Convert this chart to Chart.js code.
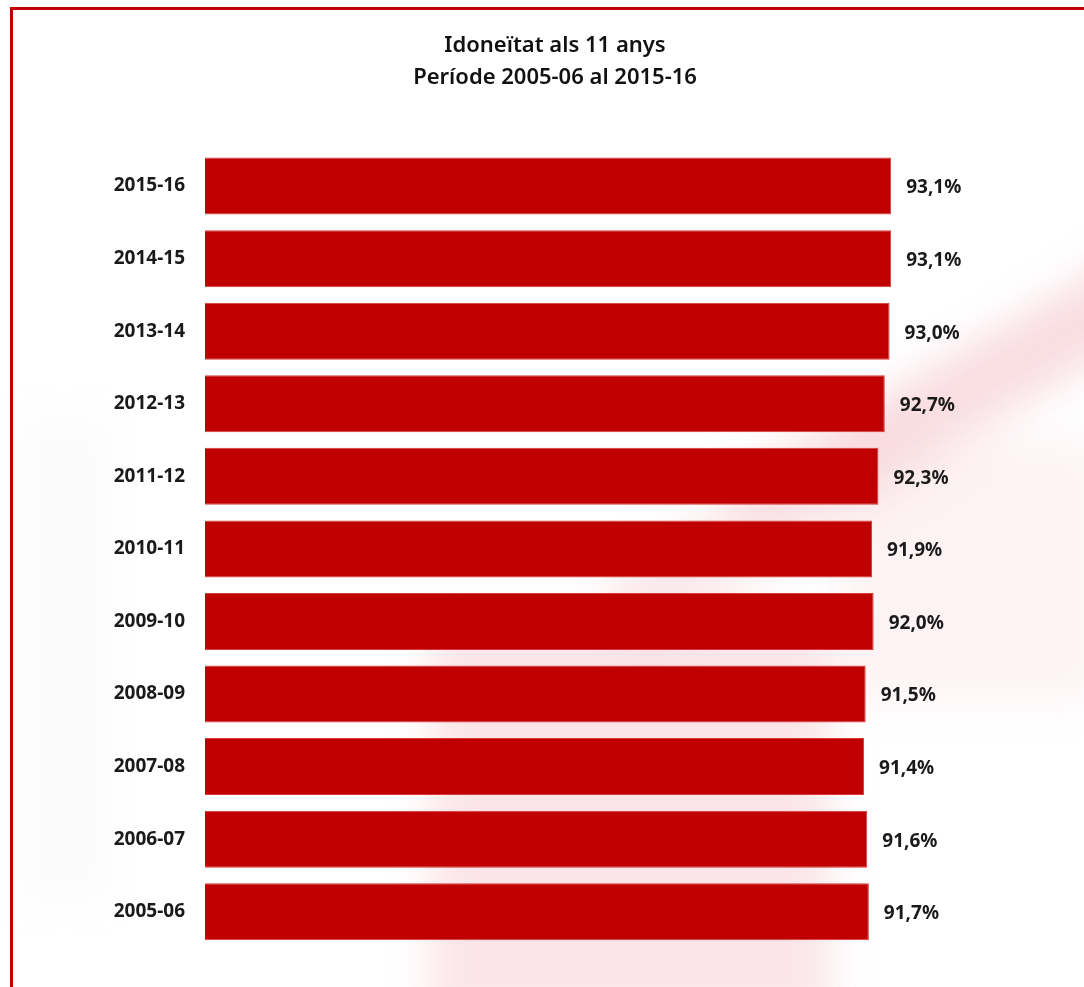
<!DOCTYPE html>
<html>
<head>
<meta charset="utf-8">
<script src="https://cdn.jsdelivr.net/npm/chart.js@4.4.1/dist/chart.umd.min.js"></script>
<style>
  html, body { margin: 0; padding: 0; background: #fff; overflow: hidden; }
  #wrap { position: relative; width: 1084px; height: 987px; overflow: hidden; background: #fff; }
  #bg { position: absolute; left: 0; top: 0; width: 1084px; height: 987px; overflow: hidden; }
  .blob { position: absolute; filter: blur(20px); }
  #frame { position: absolute; left: 10px; top: 7px; width: 1100px; height: 1000px;
           border-left: 3px solid #C00000; border-top: 3px solid #C00000; box-sizing: border-box; }
  canvas { position: absolute; left: 0; top: 0; }
</style>
</head>
<body>
<div id="wrap">
  <div id="bg">
    <div class="blob" style="left:430px; top:620px; width:400px; height:400px; background:rgba(245,190,198,0.40);"></div>
    <div class="blob" style="left:600px; top:580px; width:700px; height:80px; background:rgba(240,170,180,0.25); transform:rotate(-32deg); transform-origin:0 0;"></div>
    <div class="blob" style="left:720px; top:480px; width:600px; height:60px; background:rgba(240,170,180,0.22); transform:rotate(-28deg); transform-origin:0 0;"></div>
    <div class="blob" style="left:840px; top:440px; width:260px; height:260px; background:rgba(245,200,205,0.22);"></div>
    <div class="blob" style="left:20px; top:420px; width:90px; height:480px; background:rgba(200,200,200,0.07);"></div>
  </div>
  <div id="frame"></div>
  <canvas id="c" width="1084" height="987"></canvas>
</div>
<script>
const categories = ['2015-16','2014-15','2013-14','2012-13','2011-12','2010-11','2009-10','2008-09','2007-08','2006-07','2005-06'];
const values = [93.1, 93.1, 93.0, 92.7, 92.3, 91.9, 92.0, 91.5, 91.4, 91.6, 91.7];
const titleLines = ['Idoneïtat als 11 anys', 'Període 2005-06 al 2015-16'];
const axisMin = 50;
const axisMax = 100;

const fmt = v => v.toFixed(1).replace('.', ',') + '%';

const valueLabels = {
  id: 'valueLabels',
  afterDatasetsDraw(chart) {
    const ctx = chart.ctx;
    const meta = chart.getDatasetMeta(0);
    ctx.save();
    ctx.font = 'bold 19px "Noto Sans"';
    ctx.fillStyle = '#1a1a1a';
    ctx.textAlign = 'left';
    ctx.textBaseline = 'middle';
    meta.data.forEach((bar, i) => {
      ctx.fillText(fmt(values[i]), bar.x + 15, bar.y + 2);
    });
    ctx.restore();
  }
};

new Chart(document.getElementById('c'), {
  type: 'bar',
  data: {
    labels: categories,
    datasets: [{
      data: values,
      backgroundColor: '#C00000',
      borderColor: '#D63A3A',
      borderWidth: 1,
      borderSkipped: false,
      barPercentage: 0.786,
      categoryPercentage: 1.0
    }]
  },
  options: {
    indexAxis: 'y',
    responsive: false,
    animation: false,
    devicePixelRatio: 1,
    layout: { padding: { left: 109, right: 83, top: 30, bottom: 39 } },
    plugins: {
      legend: { display: false },
      tooltip: { enabled: false },
      title: {
        display: true,
        text: titleLines,
        color: '#111',
        font: { family: '"Noto Sans"', size: 22, weight: '600', lineHeight: 1.45 },
        padding: { top: 0, bottom: 56 }
      }
    },
    scales: {
      x: { display: false, min: axisMin, max: axisMax },
      y: {
        grid: { display: false, drawTicks: false },
        border: { display: false },
        ticks: {
          color: '#1a1a1a',
          padding: 20,
          font: { family: '"Noto Sans"', size: 19, weight: 'bold' }
        },
        afterFit(scale) { scale.width = 96; }
      }
    }
  },
  plugins: [valueLabels]
});
</script>
</body>
</html>
